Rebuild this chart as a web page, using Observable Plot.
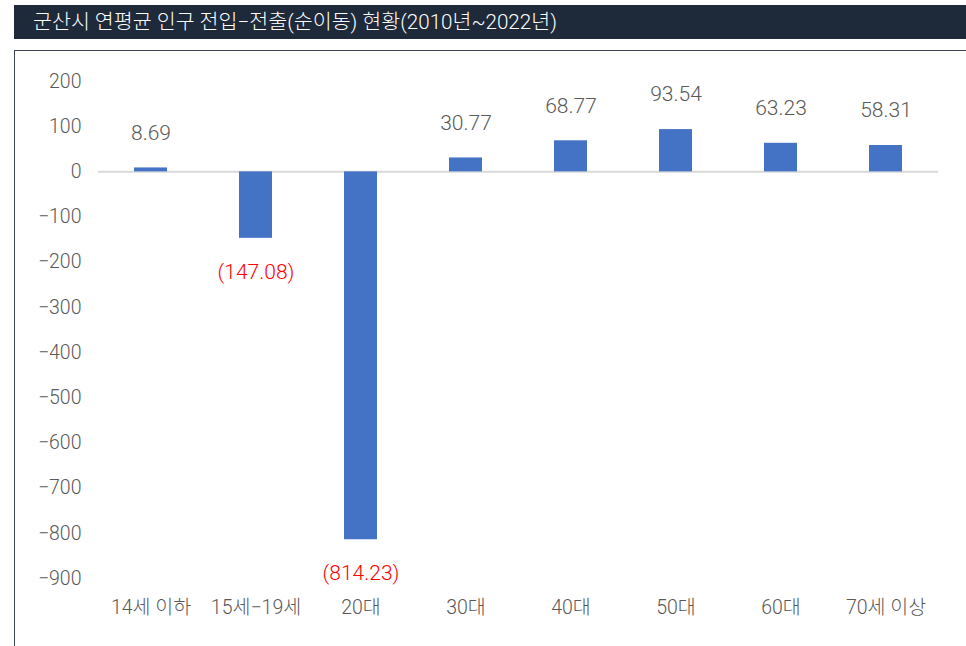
<!DOCTYPE html>
<html>
<head>
<meta charset="utf-8">
<script src="https://cdn.jsdelivr.net/npm/d3@7"></script>
<script src="https://cdn.jsdelivr.net/npm/@observablehq/plot@0.6"></script>
<style>
  html, body { margin: 0; padding: 0; background: #fff; width: 966px; height: 646px; overflow: hidden; }
  body { position: relative; font-family: Roboto, "Noto Sans CJK KR", sans-serif; }
  #title { position: absolute; left: 14px; top: 5px; width: 960px; height: 34px; background: #1e2939;
    color: #fff; font-family: Roboto, "Noto Sans CJK KR", sans-serif; font-weight: 300; font-size: 20.6px; line-height: 34px; padding-left: 19px; box-sizing: border-box; white-space: nowrap; }
  #frame { position: absolute; left: 14px; top: 50px; width: 970px; height: 640px; border: 1.5px solid #3c4452; box-sizing: border-box; }
  #chart { position: absolute; left: 0; top: 49px; }
</style>
</head>
<body>
<div id="title">군산시 연평균 인구 전입−전출(순이동) 현황(2010년~2022년)</div>
<div id="frame"></div>
<div id="chart"></div>
<script>
const categories = ["14세 이하", "15세−19세", "20대", "30대", "40대", "50대", "60대", "70세 이상"];
const values = [8.69, -147.08, -814.23, 30.77, 68.77, 93.54, 63.23, 58.31];
const yTicks = [200, 100, 0, -100, -200, -300, -400, -500, -600, -700, -800, -900];

const data = categories.map((c, i) => ({category: c, value: values[i]}));
const pos = data.filter(d => d.value >= 0);
const neg = data.filter(d => d.value < 0);

const chart = Plot.plot({
  width: 966,
  height: 597,
  marginLeft: 98,
  marginRight: 28,
  marginTop: 32,
  marginBottom: 68,
  style: {fontFamily: 'Roboto, "Noto Sans CJK KR", sans-serif', fontWeight: 300, background: "transparent"},
  x: {domain: categories, paddingInner: 0.69, paddingOuter: 0.345, label: null},
  y: {domain: [-900, 200], label: null},
  marks: [
    Plot.axisY({ticks: yTicks, tickSize: 0, tickPadding: 17, fontSize: 19.5, color: "#595959", label: null,
      tickFormat: d => d < 0 ? "\u2212" + Math.abs(d) : String(d)}),
    Plot.axisX({tickSize: 0, tickPadding: 22, fontSize: 19.5, color: "#595959", label: null}),
    Plot.ruleY([0], {stroke: "#d9d9d9", strokeWidth: 2}),
    Plot.barY(data, {x: "category", y: "value", fill: "#4472C4"}),
    Plot.text(pos, {x: "category", y: "value", text: d => d.value.toFixed(2), dy: -35, fontSize: 21, fill: "#595959"}),
    Plot.text(neg, {x: "category", y: "value", text: d => "(" + Math.abs(d.value).toFixed(2) + ")", dy: 34, fontSize: 21, fill: "#ff0000"})
  ]
});
document.getElementById("chart").appendChild(chart);
</script>
</body>
</html>
